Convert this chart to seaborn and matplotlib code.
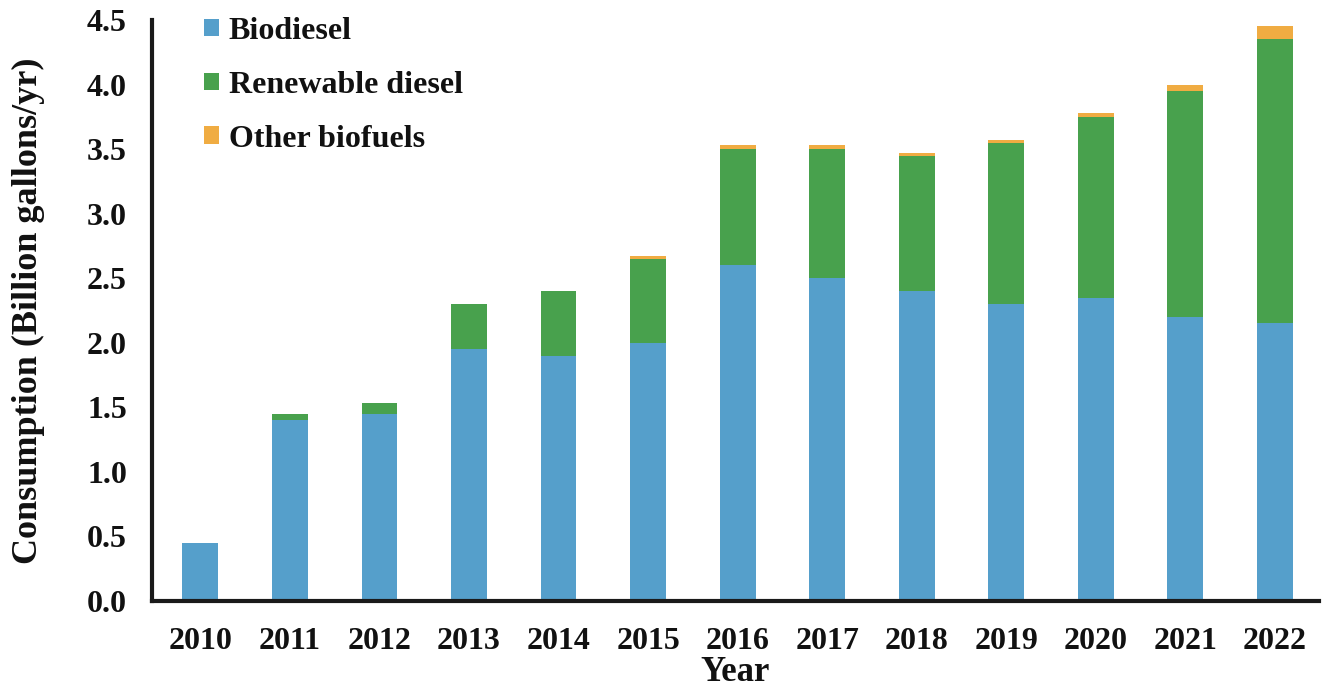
import numpy as np
import pandas as pd
import seaborn as sns
import matplotlib.pyplot as plt

# values (billion gallons/yr)
years = ['2010', '2011', '2012', '2013', '2014', '2015', '2016',
         '2017', '2018', '2019', '2020', '2021', '2022']
biodiesel = [0.45, 1.40, 1.45, 1.95, 1.90, 2.00, 2.60, 2.50, 2.40, 2.30, 2.35, 2.20, 2.15]
renewable = [0.00, 0.05, 0.08, 0.35, 0.50, 0.65, 0.90, 1.00, 1.05, 1.25, 1.40, 1.75, 2.20]
other = [0.00, 0.00, 0.00, 0.00, 0.00, 0.02, 0.03, 0.03, 0.02, 0.02, 0.03, 0.05, 0.10]

df = pd.DataFrame({'Year': years, 'Biodiesel': biodiesel,
                   'Renewable': renewable, 'Other': other})
df['bio_rd'] = df['Biodiesel'] + df['Renewable']
df['total'] = df['bio_rd'] + df['Other']

sns.set_style('white')
plt.rcParams['font.family'] = ['Liberation Serif', 'DejaVu Serif']
plt.rcParams['font.weight'] = 'bold'
plt.rcParams['text.color'] = '#111111'
plt.rcParams['axes.labelcolor'] = '#111111'
plt.rcParams['xtick.color'] = '#111111'
plt.rcParams['ytick.color'] = '#111111'

fig = plt.figure(figsize=(13.26, 6.93), dpi=100)
ax = fig.add_axes([0.1146, 0.1327, 0.88, 0.8384])

# stacked bars drawn as overlapping cumulative totals
sns.barplot(data=df, x='Year', y='total', color='#F0AC42', saturation=1,
            width=0.4, linewidth=0, label='Other biofuels', ax=ax)
sns.barplot(data=df, x='Year', y='bio_rd', color='#48A14D', saturation=1,
            width=0.4, linewidth=0, label='Renewable diesel', ax=ax)
sns.barplot(data=df, x='Year', y='Biodiesel', color='#559FCB', saturation=1,
            width=0.4, linewidth=0, label='Biodiesel', ax=ax)

ax.set_ylim(0, 4.5)
ax.set_xlim(-0.54, 12.49)
ax.set_yticks(np.arange(0, 4.51, 0.5))
ax.set_yticklabels([f'{v:.1f}' for v in np.arange(0, 4.51, 0.5)])
ax.tick_params(axis='y', direction='in', length=6, width=2.5, labelsize=23, pad=18)
ax.tick_params(axis='x', length=0, labelsize=23, pad=19)
for lbl in ax.get_xticklabels() + ax.get_yticklabels():
    lbl.set_fontweight('bold')

ax.set_xlabel('Year', fontsize=25, fontweight='bold', labelpad=0)
ax.set_ylabel('Consumption (Billion gallons/yr)', fontsize=26, fontweight='bold', labelpad=30)

for s in ['top', 'right']:
    ax.spines[s].set_visible(False)
for s in ['left', 'bottom']:
    ax.spines[s].set_linewidth(3)
    ax.spines[s].set_color('#1a1a1a')

handles, labels = ax.get_legend_handles_labels()
order = [2, 1, 0]
ax.legend([handles[i] for i in order], [labels[i] for i in order],
          loc='upper left', bbox_to_anchor=(0.02, 1.055), frameon=False,
          prop={'size': 23, 'weight': 'bold'}, handlelength=0.47, handleheight=0.47,
          handletextpad=0.3, labelspacing=0.78)

fig.savefig('out.png', dpi=100)
